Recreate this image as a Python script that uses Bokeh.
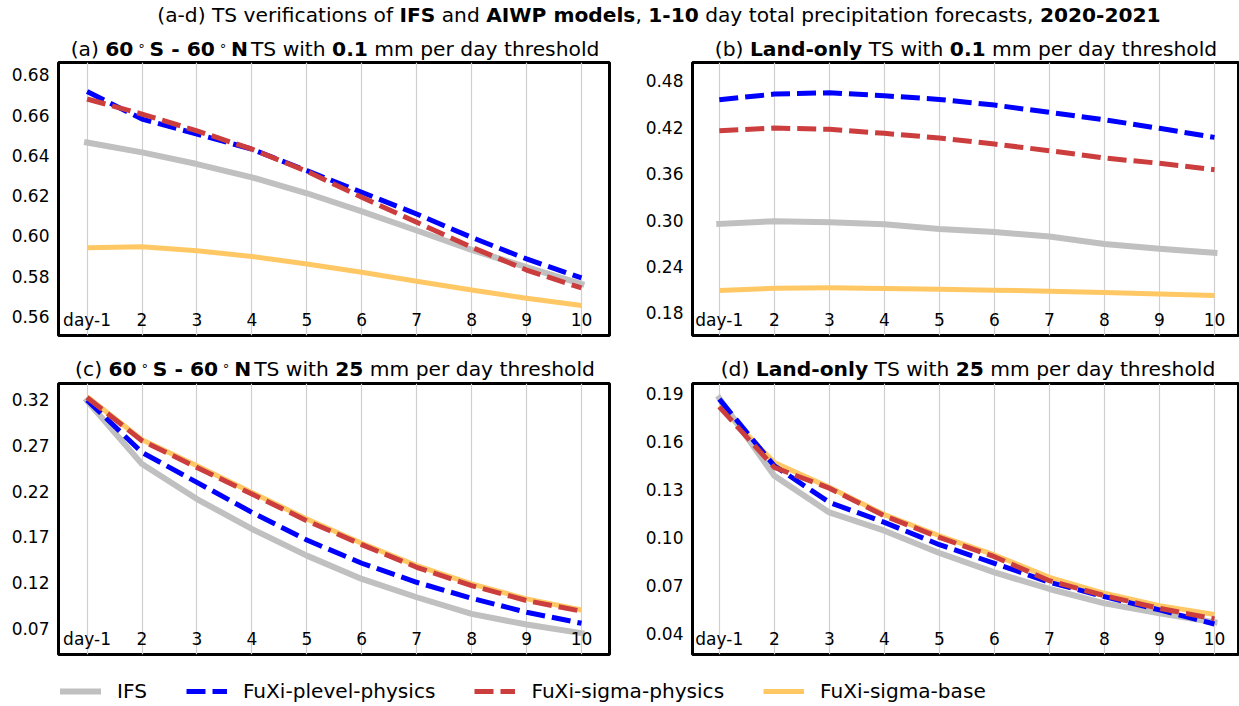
from bokeh.plotting import figure
from bokeh.models import Range1d, FixedTicker, Div, Legend, LegendItem, PrintfTickFormatter
from bokeh.layouts import column, row
from bokeh.embed import file_html
from bokeh.resources import INLINE

# ---------------- data ----------------
days = [1, 2, 3, 4, 5, 6, 7, 8, 9, 10]
day_labels = ["day-1", "2", "3", "4", "5", "6", "7", "8", "9", "10"]
series_names = ["IFS", "FuXi-plevel-physics", "FuXi-sigma-physics", "FuXi-sigma-base"]

# (a) 60S-60N, 0.1 mm/day
a_ifs = [0.6464, 0.6415, 0.6357, 0.6291, 0.6212, 0.6122, 0.6027, 0.5931, 0.5845, 0.5762]
a_plevel = [0.6717, 0.6580, 0.6506, 0.6431, 0.6324, 0.6217, 0.6109, 0.5993, 0.5886, 0.5792]
a_sigma_phys = [0.6680, 0.6605, 0.6522, 0.6431, 0.6321, 0.6192, 0.6068, 0.5944, 0.5831, 0.5742]
a_sigma_base = [0.5942, 0.5947, 0.5927, 0.5898, 0.5861, 0.5820, 0.5775, 0.5732, 0.5691, 0.5655]
a_yticks = [0.56, 0.58, 0.60, 0.62, 0.64, 0.66, 0.68]

# (b) land-only, 0.1 mm/day
b_ifs = [0.2949, 0.2984, 0.2971, 0.2945, 0.2885, 0.2846, 0.2786, 0.2691, 0.2627, 0.2575]
b_plevel = [0.4555, 0.4628, 0.4645, 0.4606, 0.4559, 0.4486, 0.4391, 0.4296, 0.4185, 0.4068]
b_sigma_phys = [0.4154, 0.4189, 0.4172, 0.4120, 0.4060, 0.3982, 0.3896, 0.3801, 0.3733, 0.3651]
b_sigma_base = [0.2088, 0.2118, 0.2123, 0.2114, 0.2105, 0.2093, 0.2080, 0.2063, 0.2045, 0.2024]
b_yticks = [0.18, 0.24, 0.30, 0.36, 0.42, 0.48]

# (c) 60S-60N, 25 mm/day
c_ifs = [0.3182, 0.2493, 0.2113, 0.1787, 0.1497, 0.1243, 0.1044, 0.0863, 0.0747, 0.0653]
c_plevel = [0.3189, 0.2620, 0.2294, 0.1968, 0.1667, 0.1414, 0.1207, 0.1033, 0.0881, 0.0761]
c_sigma_phys = [0.3218, 0.2747, 0.2457, 0.2167, 0.1877, 0.1617, 0.1370, 0.1171, 0.1008, 0.0892]
c_sigma_base = [0.3225, 0.2758, 0.2475, 0.2185, 0.1895, 0.1631, 0.1388, 0.1189, 0.1026, 0.0906]
c_yticks = [0.07, 0.12, 0.17, 0.22, 0.27, 0.32]

# (d) land-only, 25 mm/day
d_ifs = [0.1871, 0.1385, 0.1156, 0.1042, 0.0902, 0.0781, 0.0677, 0.0587, 0.0525, 0.0469]
d_plevel = [0.1865, 0.1448, 0.1219, 0.1094, 0.0954, 0.0838, 0.0719, 0.0629, 0.0546, 0.0458]
d_sigma_phys = [0.1817, 0.1438, 0.1308, 0.1135, 0.1000, 0.0879, 0.0729, 0.0635, 0.0556, 0.0490]
d_sigma_base = [0.1823, 0.1469, 0.1313, 0.1142, 0.1010, 0.0890, 0.0750, 0.0650, 0.0573, 0.0517]
d_yticks = [0.04, 0.07, 0.10, 0.13, 0.16, 0.19]

# ---------------- styles ----------------
FONT = "DejaVu Sans"
C_IFS = "#c0c0c0"
C_PLEVEL = "#0000ff"
C_SIGMA_P = "#cc3d3d"
C_SIGMA_B = "#ffc864"
DASH = "19 7"


def draw_lines(p, ifs, plevel, sphys, sbase):
    rb = p.line(days, sbase, line_color=C_SIGMA_B, line_width=5, line_join="round")
    ri = p.line(days, ifs, line_color=C_IFS, line_width=6, line_join="round", line_cap="square")
    rp = p.line(days, plevel, line_color=C_PLEVEL, line_width=5, line_dash=DASH, line_join="round")
    rs = p.line(days, sphys, line_color=C_SIGMA_P, line_width=5, line_dash=DASH, line_join="round")
    return ri, rp, rs, rb


def make_panel(width, height, xr, yr, yticks, bl, br, bt, bb, data):
    p = figure(width=width, height=height, x_range=Range1d(*xr), y_range=Range1d(*yr),
               output_backend="svg", toolbar_location=None,
               min_border_left=bl, min_border_right=br, min_border_top=bt, min_border_bottom=bb)
    p.outline_line_color = "black"
    p.outline_line_width = 3
    p.outline_line_alpha = 1.0
    p.background_fill_color = "white"
    p.border_fill_color = "white"

    xa = p.xaxis[0]
    xa.ticker = FixedTicker(ticks=days)
    xa.major_label_overrides = {d: lab for d, lab in zip(days, day_labels)}
    xa.axis_line_color = None
    xa.major_tick_out = 0
    xa.major_tick_in = 0
    xa.minor_tick_out = 0
    xa.minor_tick_in = 0
    xa.major_label_standoff = -26
    xa.major_label_text_font = FONT
    xa.major_label_text_font_size = "17px"
    xa.major_label_text_color = "black"

    ya = p.yaxis[0]
    ya.ticker = FixedTicker(ticks=yticks)
    ya.formatter = PrintfTickFormatter(format="%.2f")
    ya.axis_line_color = None
    ya.major_tick_out = 0
    ya.major_tick_in = 0
    ya.minor_tick_out = 0
    ya.minor_tick_in = 0
    ya.major_label_standoff = 9
    ya.major_label_text_font = FONT
    ya.major_label_text_font_size = "17px"
    ya.major_label_text_color = "black"

    p.xgrid.grid_line_color = "#cfcfcf"
    p.xgrid.grid_line_width = 1.2
    p.ygrid.grid_line_color = None

    rs = draw_lines(p, *data)
    return p, rs


def title_div(html, width, height, center_x, top, size):
    inner = (f'<div style="position:absolute; left:{center_x}px; top:{top}px; '
             f'transform:translateX(-50%); white-space:nowrap; font-family:\'{FONT}\'; '
             f'font-size:{size}px; line-height:{size}px; color:black;">{html}</div>')
    return Div(text=inner, width=width, height=height, margin=(0, 0, 0, 0),
               styles={"position": "relative", "overflow": "visible"})


deg = ('<span style="font-weight:normal; font-size:13px; position:relative; top:-6px; '
       'padding:0 4px 0 4px;">&#8728;</span>')
lat = f"<b>60{deg}S - 60{deg}N</b>"
gap = '<span style="padding-left:3px;"></span>'

main_html = ("(a-d) TS verifications of <b>IFS</b> and <b>AIWP models</b>, "
             "<b>1-10</b> day total precipitation forecasts, <b>2020-2021</b>")
ta_html = f"(a) {lat}{gap}TS with <b>0.1</b> mm per day threshold"
tb_html = "(b) <b>Land-only</b> TS with <b>0.1</b> mm per day threshold"
tc_html = f"(c) {lat}{gap}TS with <b>25</b> mm per day threshold"
td_html = "(d) <b>Land-only</b> TS with <b>25</b> mm per day threshold"

WL, WR = 619, 620
XR_L = (0.48, 10.51)
XR_R = (0.513, 10.455)

pa, _ = make_panel(WL, 279, XR_L, (0.5506, 0.6861), a_yticks, 58, 10, 1, 5,
                   (a_ifs, a_plevel, a_sigma_phys, a_sigma_base))
pb, _ = make_panel(WR, 279, XR_R, (0.1507, 0.5036), b_yticks, 73, 0, 1, 5,
                   (b_ifs, b_plevel, b_sigma_phys, b_sigma_base))
pc, _ = make_panel(WL, 277, XR_L, (0.0421, 0.3370), c_yticks, 58, 10, 1, 5,
                   (c_ifs, c_plevel, c_sigma_phys, c_sigma_base))
pd_, _ = make_panel(WR, 277, XR_R, (0.0267, 0.1963), d_yticks, 73, 0, 1, 5,
                    (d_ifs, d_plevel, d_sigma_phys, d_sigma_base))

TS = 20.25
main_div = title_div(main_html, 1239, 34, 659, 5, 20.2)
da = title_div(ta_html, WL, 27, 335, 5, TS)
db = title_div(tb_html, WR, 27, 347, 5, TS)
dc = title_div(tc_html, WL, 42, 335, 19, TS)
dd = title_div(td_html, WR, 42, 349, 19, TS)

# legend strip (sample lines lie outside the visible ranges; only the legend shows)
lg = figure(width=1239, height=47, x_range=Range1d(0, 1), y_range=Range1d(0, 1),
            x_axis_type=None, y_axis_type=None, output_backend="svg", toolbar_location=None,
            min_border=0)
lg.outline_line_color = None
lg.grid.visible = False
off = [-10, -9]
lr = [
    lg.line(off, off, line_color=C_IFS, line_width=6, line_cap="square"),
    lg.line(off, off, line_color=C_PLEVEL, line_width=5, line_dash=DASH),
    lg.line(off, off, line_color=C_SIGMA_P, line_width=5, line_dash=DASH),
    lg.line(off, off, line_color=C_SIGMA_B, line_width=5),
]
legend = Legend(items=[LegendItem(label=n, renderers=[r]) for n, r in zip(series_names, lr)],
                orientation="horizontal", location=(60, 3), padding=0, margin=0,
                spacing=39, glyph_width=41, glyph_height=20, label_height=20,
                label_standoff=16, label_text_font=FONT, label_text_font_size="20.1px",
                label_text_color="black",
                border_line_color=None, background_fill_alpha=0)
lg.add_layout(legend)

layout = column(
    main_div,
    row(column(da, pa, spacing=0), column(db, pb, spacing=0), spacing=0),
    row(column(dc, pc, spacing=0), column(dd, pd_, spacing=0), spacing=0),
    lg,
    spacing=0,
)

open("out.html", "w").write(file_html(layout, INLINE))
